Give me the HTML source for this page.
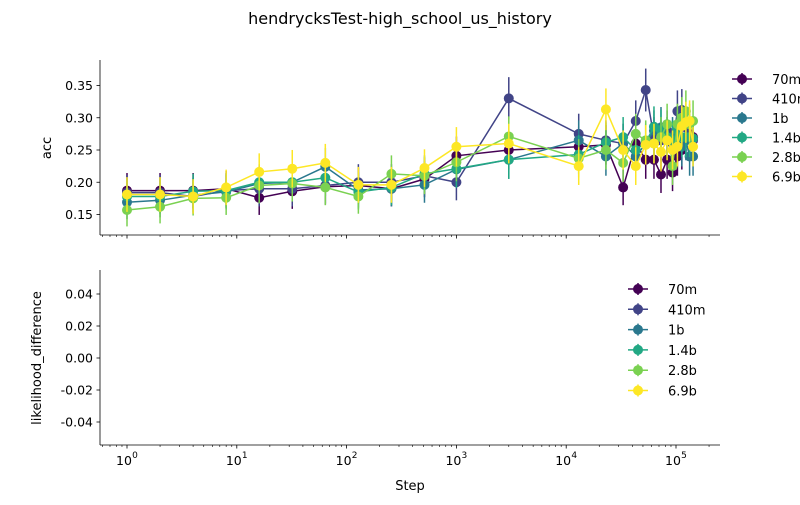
<!DOCTYPE html>
<html><head><meta charset="utf-8"><style>
body{margin:0;background:#fff;}
svg{font-family:"DejaVu Sans","Liberation Sans",sans-serif;}
</style></head><body>
<svg id="chart" width="800" height="500" xmlns="http://www.w3.org/2000/svg">
<text x="400" y="24" text-anchor="middle" font-size="16">hendrycksTest-high_school_us_history</text>
<text transform="translate(51,148) rotate(-90)" text-anchor="middle" font-size="13">acc</text>
<text transform="translate(41,358) rotate(-90)" text-anchor="middle" font-size="13">likelihood_difference</text>
<text x="410" y="490" text-anchor="middle" font-size="13">Step</text>
<g id="marks"></g>
</svg>
<script>
const steps=[1,2,4,8,16,32,64,128,256,512,1000,3000,13000,23000,33000,43000,53000,63000,73000,83000,93000,103000,113000,123000,133000,143000];
const seriesNames=["70m","410m","1b","1.4b","2.8b","6.9b"];
const colors=["#440154","#414487","#2a788e","#22a884","#7ad151","#fde725"];
const acc70m=[0.187,0.187,0.187,0.19,0.176,0.186,0.193,0.195,0.19,0.205,0.241,0.25,0.255,0.258,0.192,0.26,0.235,0.235,0.212,0.235,0.215,0.24,0.25,0.27,0.275,0.27];
const acc410m=[0.184,0.184,0.178,0.187,0.19,0.19,0.195,0.2,0.2,0.21,0.2,0.33,0.275,0.265,0.26,0.295,0.343,0.27,0.265,0.28,0.26,0.31,0.312,0.285,0.27,0.265];
const acc1b=[0.169,0.172,0.18,0.185,0.198,0.2,0.224,0.188,0.19,0.196,0.22,0.235,0.265,0.24,0.26,0.24,0.26,0.28,0.285,0.27,0.27,0.27,0.255,0.265,0.24,0.24];
const acc14b=[0.178,0.178,0.186,0.187,0.2,0.2,0.207,0.185,0.192,0.213,0.221,0.235,0.243,0.262,0.27,0.25,0.262,0.286,0.281,0.27,0.265,0.28,0.27,0.27,0.27,0.268];
const acc28b=[0.157,0.162,0.175,0.176,0.195,0.198,0.192,0.178,0.213,0.21,0.231,0.271,0.237,0.25,0.23,0.275,0.265,0.26,0.27,0.29,0.225,0.29,0.3,0.31,0.29,0.295];
const acc69b=[0.181,0.181,0.178,0.192,0.216,0.221,0.23,0.196,0.196,0.222,0.255,0.26,0.225,0.313,0.25,0.225,0.258,0.26,0.247,0.265,0.25,0.255,0.287,0.293,0.295,0.255];
const accSeries=[acc70m,acc410m,acc1b,acc14b,acc28b,acc69b];
const NS="http://www.w3.org/2000/svg";
const svg=document.getElementById('marks');
function el(t,a,p){const e=document.createElementNS(NS,t);for(const k in a)e.setAttribute(k,a[k]);(p||svg).appendChild(e);return e;}
const X0=127,DEC=109.8;
function xs(v){return X0+Math.log10(v)*DEC;}
function yTop(v){return 150-(v-0.25)*645;}
function yBot(v){return 358-v*1600;}
function axes(top,bottom,yfun,ticks,fmt,showX,nm){
  const g=el('g',{});
  
  
  el('line',{x1:100,y1:top,x2:100,y2:bottom,stroke:'#000','stroke-width':0.8},g);
  el('line',{x1:100,y1:bottom,x2:720,y2:bottom,stroke:'#000','stroke-width':0.8},g);
  ticks.forEach(t=>{const y=yfun(t);
    el('line',{x1:96.5,y1:y,x2:100,y2:y,stroke:'#000','stroke-width':0.8},g);
    const tx=el('text',{x:93,y:y+4.5,'text-anchor':'end','font-size':12.5},g);tx.textContent=fmt(t);});
  for(let d=-1;d<=5;d++){for(let m=1;m<10;m++){const v=m*Math.pow(10,d);const x=xs(v);if(x<100||x>720)continue;
    el('line',{x1:x,y1:bottom,x2:x,y2:bottom+(m==1?3.5:2),stroke:'#000','stroke-width':m==1?0.8:0.6},g);
    if(m==1&&showX){const tx=el('text',{x:x-3,y:bottom+20,'text-anchor':'middle','font-size':12.5},g);tx.textContent='10';
      const s=el('text',{x:x+8,y:bottom+13,'text-anchor':'middle','font-size':9},g);s.textContent=String(d);}}}
}
axes(60,235,yTop,[0.15,0.2,0.25,0.3,0.35],t=>t.toFixed(2),false,'top-axes');
axes(270,445,yBot,[-0.04,-0.02,0,0.02,0.04],t=>t.toFixed(2),true,'bottom-axes');
accSeries.forEach((vals,si)=>{
  const g=el('g',{});
  
  
  vals.forEach((v,i)=>{const e=Math.sqrt(v*(1-v)/204);
    const eb=el('line',{x1:xs(steps[i]),x2:xs(steps[i]),y1:yTop(v-e),y2:yTop(v+e),stroke:colors[si],'stroke-width':1.5},g);
    });
  const pl=el('polyline',{points:vals.map((v,i)=>xs(steps[i])+','+yTop(v)).join(' '),fill:'none',stroke:colors[si],'stroke-width':1.5},g);
  
  vals.forEach((v,i)=>{const c=el('circle',{cx:xs(steps[i]),cy:yTop(v),r:5,fill:colors[si]},g);
    });
});
function legend(x,y0,dy,nm){
  const g=el('g',{});
  
  
  seriesNames.forEach((n,i)=>{const y=y0+i*dy;
    const e=el('g',{},g);
    
    
    el('line',{x1:x,x2:x+20,y1:y,y2:y,stroke:colors[i],'stroke-width':1.5},e);
    el('line',{x1:x+10,x2:x+10,y1:y-6,y2:y+6,stroke:colors[i],'stroke-width':1.5},e);
    el('circle',{cx:x+10,cy:y,r:5,fill:colors[i]},e);
    const t=el('text',{x:x+40,y:y+5,'font-size':13},e);t.textContent=n;});
}
legend(732,79,19.5,'legend-top');
legend(628,289,20.3,'legend-bottom');
</script>
</body></html>
